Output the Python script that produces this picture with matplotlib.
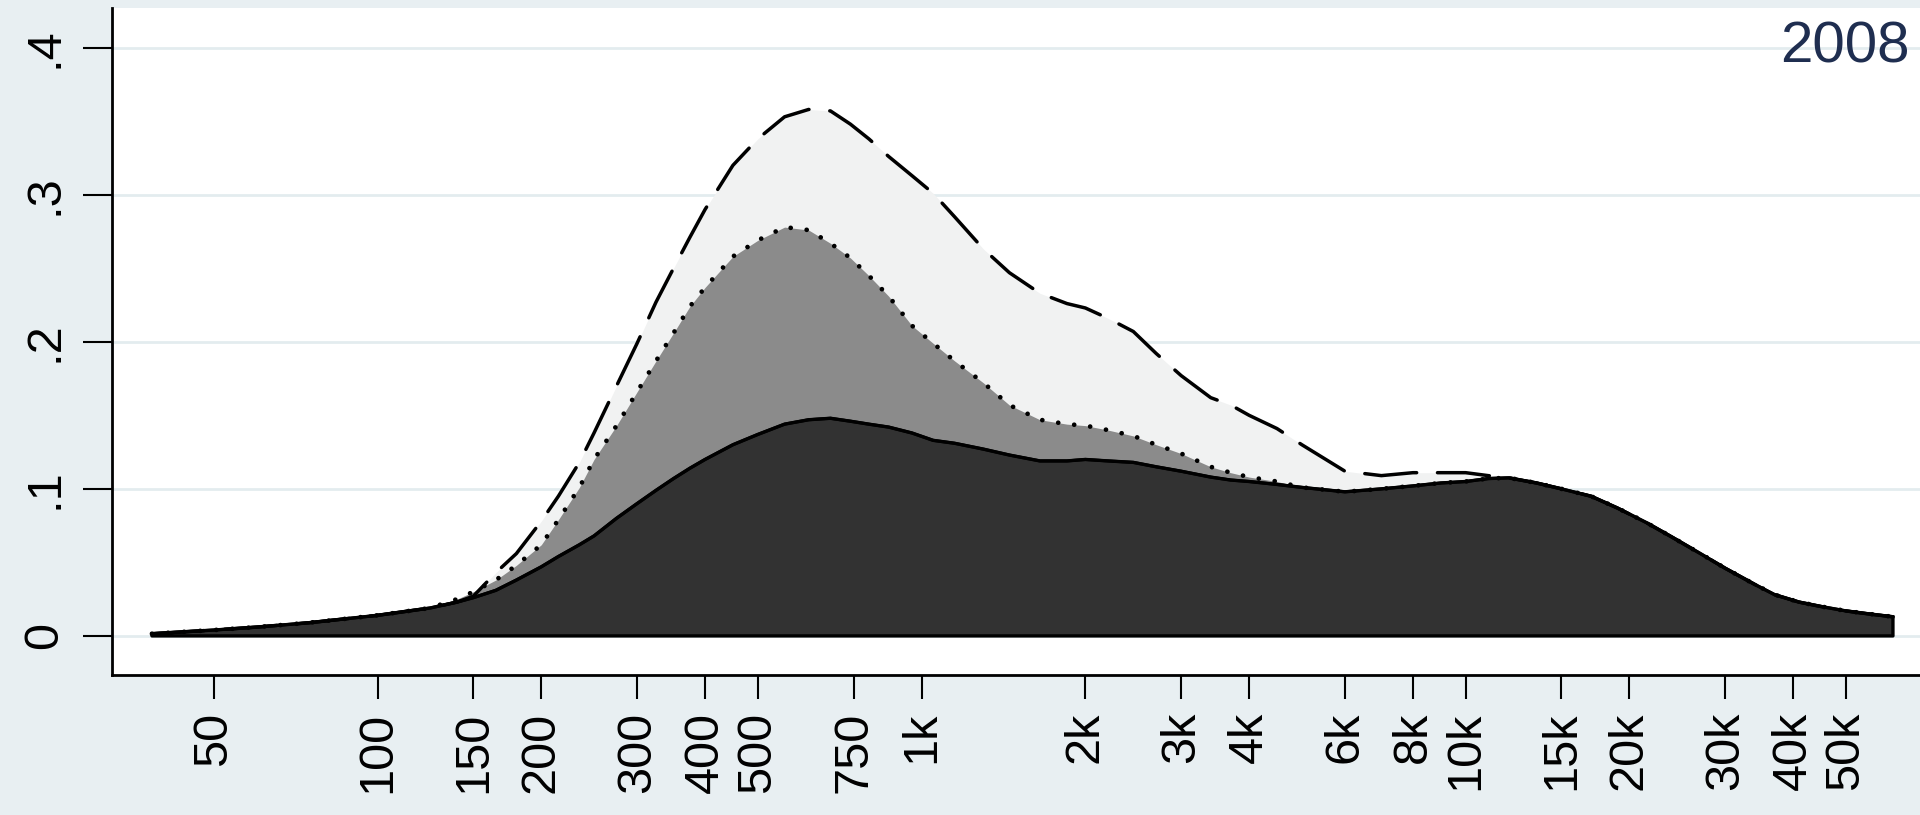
import matplotlib
matplotlib.use("Agg")
import matplotlib.pyplot as plt
import matplotlib.transforms as mtransforms
from matplotlib.ticker import NullLocator

plt.rcParams['font.family'] = ['Liberation Sans', 'DejaVu Sans']

# income grid (log scale) shared by the three density curves
income = [38.5, 45, 50, 60, 75, 100, 125, 140, 150, 165, 180, 200, 215, 235, 250,
          275, 300, 325, 350, 375, 400, 450, 500, 560, 620, 680, 740, 800, 870, 960,
          1050, 1150, 1300, 1450, 1650, 1850, 2000, 2200, 2450, 2700, 3000, 3400,
          3700, 4000, 4500, 5000, 6000, 7000, 8000, 9000, 10000, 11000, 12000,
          13500, 15000, 17000, 19000, 21500, 24000, 27000, 30000, 34000, 37000,
          41000, 45000, 50000, 55000, 61000]

# solid curve (dark area)
dens_solid = [0.0015, 0.003, 0.004, 0.006, 0.009, 0.014, 0.019, 0.023, 0.026, 0.031,
              0.038, 0.047, 0.054, 0.062, 0.068, 0.080, 0.090, 0.099, 0.107, 0.114,
              0.120, 0.130, 0.137, 0.144, 0.147, 0.148, 0.146, 0.144, 0.142, 0.138,
              0.133, 0.131, 0.127, 0.123, 0.119, 0.119, 0.120, 0.119, 0.118, 0.115,
              0.112, 0.108, 0.106, 0.105, 0.103, 0.101, 0.098, 0.100, 0.102, 0.104,
              0.105, 0.107, 0.1075, 0.104, 0.100, 0.095, 0.087, 0.077, 0.067, 0.056,
              0.046, 0.035, 0.028, 0.023, 0.020, 0.017, 0.015, 0.013]

# dotted curve (grey area)
dens_dotted = [0.0015, 0.003, 0.004, 0.006, 0.009, 0.014, 0.019, 0.025, 0.030, 0.038,
               0.048, 0.062, 0.079, 0.101, 0.120, 0.143, 0.166, 0.187, 0.206, 0.224,
               0.237, 0.258, 0.269, 0.278, 0.276, 0.267, 0.257, 0.245, 0.231, 0.211,
               0.199, 0.187, 0.172, 0.157, 0.147, 0.144, 0.143, 0.140, 0.136, 0.130,
               0.124, 0.115, 0.111, 0.108, 0.105, 0.101, 0.098, 0.100, 0.102, 0.104,
               0.105, 0.107, 0.1075, 0.104, 0.100, 0.095, 0.087, 0.077, 0.067, 0.056,
               0.046, 0.035, 0.028, 0.023, 0.020, 0.017, 0.015, 0.013]

# dashed curve (light area)
dens_dashed = [0.0015, 0.003, 0.004, 0.006, 0.009, 0.014, 0.019, 0.023, 0.027, 0.043,
               0.056, 0.078, 0.095, 0.118, 0.138, 0.170, 0.199, 0.227, 0.250, 0.271,
               0.290, 0.320, 0.338, 0.353, 0.358, 0.357, 0.348, 0.338, 0.326, 0.313,
               0.301, 0.285, 0.263, 0.247, 0.233, 0.226, 0.223, 0.216, 0.207, 0.192,
               0.177, 0.162, 0.157, 0.150, 0.141, 0.130, 0.112, 0.109, 0.111, 0.111,
               0.111, 0.109, 0.1075, 0.104, 0.100, 0.095, 0.087, 0.077, 0.067, 0.056,
               0.046, 0.035, 0.028, 0.023, 0.020, 0.017, 0.015, 0.013]

xtick_vals = [50, 100, 150, 200, 300, 400, 500, 750, 1000, 2000, 3000, 4000,
              6000, 8000, 10000, 15000, 20000, 30000, 40000, 50000]
xtick_labels = ["50", "100", "150", "200", "300", "400", "500", "750", "1k", "2k",
                "3k", "4k", "6k", "8k", "10k", "15k", "20k", "30k", "40k", "50k"]
ytick_vals = [0, 0.1, 0.2, 0.3, 0.4]
ytick_labels = ["0", ".1", ".2", ".3", ".4"]
year = "2008"

bg = "#e8eff2"
fig = plt.figure(figsize=(19.2, 8.15), dpi=100, facecolor=bg)
ax = fig.add_axes([0.0583, 0.1712, 0.9417, 0.819])
ax.set_facecolor("white")
ax.set_xscale("log")
ax.set_xlim(32.5, 68400)
ax.set_ylim(-0.0269, 0.427)

# horizontal grid
for yv in ytick_vals:
    ax.axhline(yv, color="#e3ecef", lw=2, zorder=0)

# stacked areas, back to front
ax.fill_between(income, 0, dens_dashed, color="#f1f2f2", lw=0, zorder=1)
ax.fill_between(income, 0, dens_dotted, color="#8b8b8b", lw=0, zorder=2)
ax.fill(income + income[::-1], dens_solid + [0] * len(income),
        facecolor="#323232", edgecolor="black", lw=2.4, joinstyle="round", zorder=3)

ax.plot(income, dens_dashed, color="black", lw=2.5, dashes=(15, 6),
        dash_capstyle="round", zorder=4)
ax.plot(income, dens_dotted, color="black", lw=3.4, dashes=(0.01, 3.4),
        dash_capstyle="round", zorder=5)
ax.plot(income, dens_solid, color="black", lw=2.2, zorder=6)

# axes look
for s in ["top", "right"]:
    ax.spines[s].set_visible(False)
for s in ["left", "bottom"]:
    ax.spines[s].set_linewidth(2)

ax.set_xticks(xtick_vals)
ax.set_xticklabels(xtick_labels, rotation=90, fontsize=35)
ax.xaxis.set_minor_locator(NullLocator())
ax.set_yticks(ytick_vals)
ax.set_yticklabels(ytick_labels, rotation=90, fontsize=35, va="center")
ax.tick_params(axis="x", length=17, width=1.5, pad=9)
ax.tick_params(axis="y", length=21, width=1.5, pad=11)

trans = mtransforms.blended_transform_factory(ax.transAxes, ax.transData)
ax.text(0.9945, 0.4, year, transform=trans, ha="right", va="center",
        fontsize=42, color="#1f2e50", zorder=7)

plt.savefig("out.png", dpi=100, facecolor=bg)
